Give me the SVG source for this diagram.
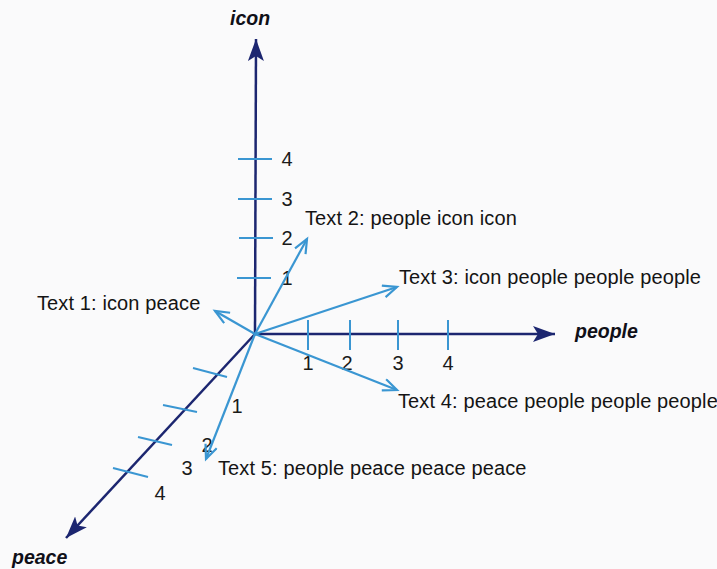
<svg xmlns="http://www.w3.org/2000/svg" width="717" height="569" viewBox="0 0 717 569">
  <defs>
    <style>
      .axis { stroke: #1c2670; stroke-width: 2.5; fill: none; }
      .vec { stroke: #3a96d2; stroke-width: 2.2; fill: none; }
      .tick { stroke: #3a96d2; stroke-width: 2; fill: none; }
      .lbl { font-family: "Liberation Sans", Arial, sans-serif; font-size: 20px; letter-spacing: 0.12px; fill: #141414; }
      .num { font-family: "Liberation Sans", Arial, sans-serif; font-size: 20px; fill: #1a1a1a; text-anchor: middle; }
      .ax { font-family: "Liberation Sans", Arial, sans-serif; font-size: 19.5px; font-weight: bold; font-style: italic; fill: #101018; }
    </style>
    <marker id="axhead" markerUnits="userSpaceOnUse" markerWidth="24" markerHeight="18" refX="22" refY="8" orient="auto">
      <path d="M0,0 L22,8 L0,16 L5,8 z" fill="#1c2670"/>
    </marker>
    <marker id="vhead" markerUnits="userSpaceOnUse" markerWidth="18" markerHeight="16" refX="15" refY="7" orient="auto">
      <path d="M1,1 L15,7 L1,13" fill="none" stroke="#3a96d2" stroke-width="2.2"/>
    </marker>
  </defs>
  <rect width="717" height="569" fill="#fafafb"/>

  <g id="axes">
    <line class="axis" x1="255" y1="334" x2="256" y2="39" marker-end="url(#axhead)"/>
    <line class="axis" x1="255" y1="334" x2="555" y2="334" marker-end="url(#axhead)"/>
    <line class="axis" x1="255" y1="334" x2="66" y2="538" marker-end="url(#axhead)"/>
  </g>

  <g id="ticks">
    <line class="tick" x1="238" y1="159" x2="272" y2="159"/>
    <line class="tick" x1="238" y1="199" x2="272" y2="199"/>
    <line class="tick" x1="239" y1="238" x2="273" y2="238"/>
    <line class="tick" x1="237" y1="278" x2="271" y2="278"/>
    <line class="tick" x1="308" y1="320" x2="308" y2="350"/>
    <line class="tick" x1="350" y1="320" x2="350" y2="350"/>
    <line class="tick" x1="398" y1="320" x2="398" y2="350"/>
    <line class="tick" x1="448" y1="320" x2="448" y2="350"/>
    <line class="tick" x1="193" y1="368" x2="227" y2="377"/>
    <line class="tick" x1="163" y1="405" x2="197" y2="412"/>
    <line class="tick" x1="138" y1="437" x2="172" y2="445"/>
    <line class="tick" x1="113" y1="468" x2="148" y2="477"/>
  </g>

  <g id="tick-labels">
    <text class="num" x="287" y="166">4</text>
    <text class="num" x="287" y="206">3</text>
    <text class="num" x="287" y="245">2</text>
    <text class="num" x="287" y="285">1</text>
    <text class="num" x="308" y="370">1</text>
    <text class="num" x="347" y="370">2</text>
    <text class="num" x="398" y="370">3</text>
    <text class="num" x="448" y="370">4</text>
    <text class="num" x="237" y="413">1</text>
    <text class="num" x="207" y="452">2</text>
    <text class="num" x="187" y="475">3</text>
    <text class="num" x="160" y="500">4</text>
  </g>

  <g id="connectors">
    <line class="vec" x1="255" y1="334" x2="215" y2="311" marker-end="url(#vhead)"/>
    <line class="vec" x1="255" y1="334" x2="307" y2="239" marker-end="url(#vhead)"/>
    <line class="vec" x1="255" y1="334" x2="397" y2="287" marker-end="url(#vhead)"/>
    <line class="vec" x1="255" y1="334" x2="397" y2="390" marker-end="url(#vhead)"/>
    <line class="vec" x1="255" y1="334" x2="206" y2="459" marker-end="url(#vhead)"/>
  </g>

  <g id="axis-icon"><text class="ax" x="230" y="25">icon</text></g>
  <g id="axis-people"><text class="ax" x="575" y="338">people</text></g>
  <g id="axis-peace"><text class="ax" x="12" y="564">peace</text></g>

  <g id="text1"><text class="lbl" x="37" y="310">Text 1: icon peace</text></g>
  <g id="text2"><text class="lbl" x="305" y="225">Text 2: people icon icon</text></g>
  <g id="text3"><text class="lbl" x="399" y="284">Text 3: icon people people people</text></g>
  <g id="text4"><text class="lbl" x="398" y="408">Text 4: peace people people people</text></g>
  <g id="text5"><text class="lbl" x="218" y="475">Text 5: people peace peace peace</text></g>
</svg>
